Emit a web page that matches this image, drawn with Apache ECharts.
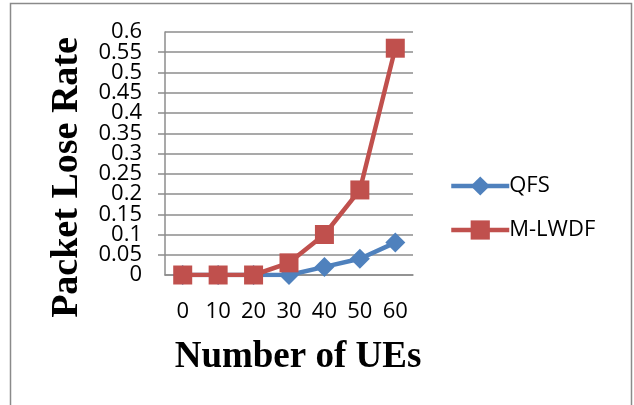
<!DOCTYPE html>
<html>
<head>
<meta charset="utf-8">
<script src="https://cdn.jsdelivr.net/npm/echarts@6/dist/echarts.min.js"></script>
<style>
  html, body { margin: 0; padding: 0; background: #fff; }
  #chart { width: 634px; height: 405px; }
</style>
</head>
<body>
<div id="chart"></div>
<script>
// data
const categories = ["0", "10", "20", "30", "40", "50", "60"];
const qfsValues = [0, 0, 0, 0, 0.02, 0.04, 0.08];
const mlwdfValues = [0, 0, 0, 0.03, 0.1, 0.21, 0.56];
const yMin = 0;
const yMax = 0.6;
const yStep = 0.05;

const myChart = echarts.init(document.getElementById("chart"));

const labelFont = "Open Sans";
const titleFont = "Liberation Serif";
const gridColor = "#8c8c8c";

const fmt = (val) => `${Number(val.toFixed(2))}`;
// the end labels (0 and 0.6) sit on a twin axis so ECharts does not drop them for overlapping
const isEnd = (val) => Math.abs(val - yMin) < 1e-9 || Math.abs(val - yMax) < 1e-9;

const labelStyle = {
  fontFamily: labelFont,
  fontSize: 22,
  color: "#000",
  margin: 23,
};

const options = {
  animation: false,
  legend: {
    orient: "vertical",
    left: 444,
    top: 170,
    itemWidth: 58,
    itemHeight: 24,
    itemGap: 22,
    data: ["QFS", "M-LWDF"],
    lineStyle: { width: 4.5 },
    textStyle: {
      fontFamily: labelFont,
      fontSize: 22,
      color: "#000",
      padding: [0, 0, 0, -5],
    },
  },
  grid: {
    left: 165,
    right: 221,
    top: 32,
    bottom: 130,
  },
  xAxis: {
    type: "category",
    data: categories,
    boundaryGap: true,
    name: "Number of UEs",
    nameLocation: "middle",
    nameGap: 64,
    nameTextStyle: {
      fontFamily: titleFont,
      fontWeight: "bold",
      fontSize: 37,
      color: "#000",
      padding: [0, 0, 0, 18],
    },
    axisLine: { show: true, lineStyle: { color: gridColor, width: 1.5 } },
    axisTick: { show: false },
    axisLabel: {
      fontFamily: labelFont,
      fontSize: 22,
      color: "#000",
      margin: 26,
      interval: 0,
    },
  },
  yAxis: [
    {
      type: "value",
      min: yMin,
      max: yMax,
      interval: yStep,
      name: "Packet Lose Rate",
      nameLocation: "middle",
      nameGap: 79,
      nameTextStyle: {
        fontFamily: titleFont,
        fontWeight: "bold",
        fontSize: 38,
        color: "#000",
        padding: [0, 48, 0, 0],
      },
      axisLine: { show: true, lineStyle: { color: gridColor, width: 1.5 } },
      axisTick: { show: true, length: 7, lineStyle: { color: gridColor, width: 1.5 } },
      axisLabel: {
        ...labelStyle,
        showMinLabel: false,
        showMaxLabel: false,
        formatter: fmt,
      },
      splitLine: { show: true, lineStyle: { color: gridColor, width: 1.5 } },
    },
    {
      type: "value",
      position: "left",
      min: yMin,
      max: yMax,
      interval: yStep,
      axisLine: { show: false },
      axisTick: { show: false },
      splitLine: { show: false },
      axisLabel: {
        ...labelStyle,
        showMinLabel: true,
        showMaxLabel: true,
        formatter: (val) => (isEnd(val) ? fmt(val) : ""),
      },
    },
  ],
  series: [
    {
      name: "QFS",
      type: "line",
      data: qfsValues,
      symbol: "diamond",
      symbolSize: 20,
      color: "#4F81BD",
      lineStyle: { width: 4.5 },
      itemStyle: { color: "#4F81BD" },
      z: 2,
    },
    {
      name: "M-LWDF",
      type: "line",
      data: mlwdfValues,
      symbol: "rect",
      symbolSize: 19,
      color: "#C0504D",
      lineStyle: { width: 4.5 },
      itemStyle: { color: "#C0504D" },
      z: 3,
    },
  ],
  graphic: [
    {
      type: "rect",
      shape: { x: 10.5, y: 3.5, width: 621, height: 405 },
      style: { fill: null, stroke: "#8a8a8a", lineWidth: 1.5 },
      silent: true,
    },
  ],
};

myChart.setOption(options);
window.addEventListener("resize", myChart.resize);
</script>
</body>
</html>
